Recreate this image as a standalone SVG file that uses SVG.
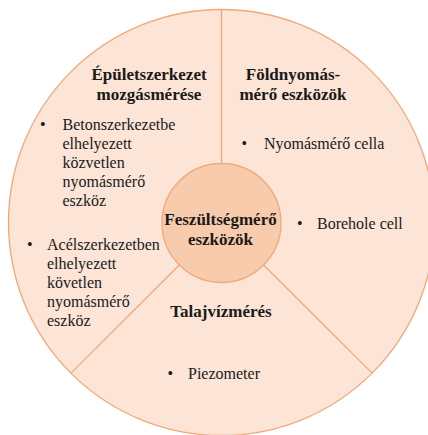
<svg xmlns="http://www.w3.org/2000/svg" width="428" height="435" viewBox="0 0 428 435">
<style>
.outer{fill:#FCE4D6;stroke:#F1A878;stroke-width:1.3}
.inner{fill:#F8CBAD;stroke:#F1A878;stroke-width:1.3}
.div{stroke:#F1A878;stroke-width:1.3;fill:none}
.t{font-family:"Liberation Serif","Times New Roman",serif;font-size:17px;font-weight:bold;fill:#1a1a1a;text-anchor:middle}
.b{font-family:"Liberation Serif","Times New Roman",serif;font-size:16px;fill:#1a1a1a}
</style>
<rect width="428" height="435" fill="#ffffff"/>
<g id="ring">
<circle class="outer" cx="221.5" cy="222.5" r="213"/>
</g>
<g id="connectors">
<line class="div" x1="221.5" y1="9.5" x2="221.5" y2="163.5"/>
<line class="div" x1="179.4" y1="265" x2="70.9" y2="373.1"/>
<line class="div" x1="263.6" y1="265" x2="372.1" y2="373.1"/>
</g>
<g id="center">
<circle class="inner" cx="221.5" cy="223" r="59.5"/>
<text class="t" x="220.5" y="225">Feszültségmérő</text>
<text class="t" x="220.5" y="245">eszközök</text>
</g>
<g id="epulet">
<text class="t" x="149" y="80">Épületszerkezet</text>
<text class="t" x="149" y="100">mozgásmérése</text>
<text class="b" x="40" y="130">•</text>
<text class="b" x="62.5" y="130">Betonszerkezetbe</text>
<text class="b" x="62.5" y="149">elhelyezett</text>
<text class="b" x="62.5" y="168">közvetlen</text>
<text class="b" x="62.5" y="187">nyomásmérő</text>
<text class="b" x="62.5" y="206">eszköz</text>
<text class="b" x="27" y="250">•</text>
<text class="b" x="47" y="250">Acélszerkezetben</text>
<text class="b" x="47" y="269">elhelyezett</text>
<text class="b" x="47" y="288">követlen</text>
<text class="b" x="47" y="307">nyomásmérő</text>
<text class="b" x="47" y="326">eszköz</text>
</g>
<g id="foldnyomas">
<text class="t" x="293" y="80">Földnyomás-</text>
<text class="t" x="293" y="100">mérő eszközök</text>
<text class="b" x="241.5" y="149">•</text>
<text class="b" x="264" y="149">Nyomásmérő cella</text>
<text class="b" x="297" y="229">•</text>
<text class="b" x="317" y="229">Borehole cell</text>
</g>
<g id="talajviz">
<text class="t" x="221" y="317">Talajvízmérés</text>
<text class="b" x="167.5" y="379">•</text>
<text class="b" x="188" y="379">Piezometer</text>
</g>
</svg>
